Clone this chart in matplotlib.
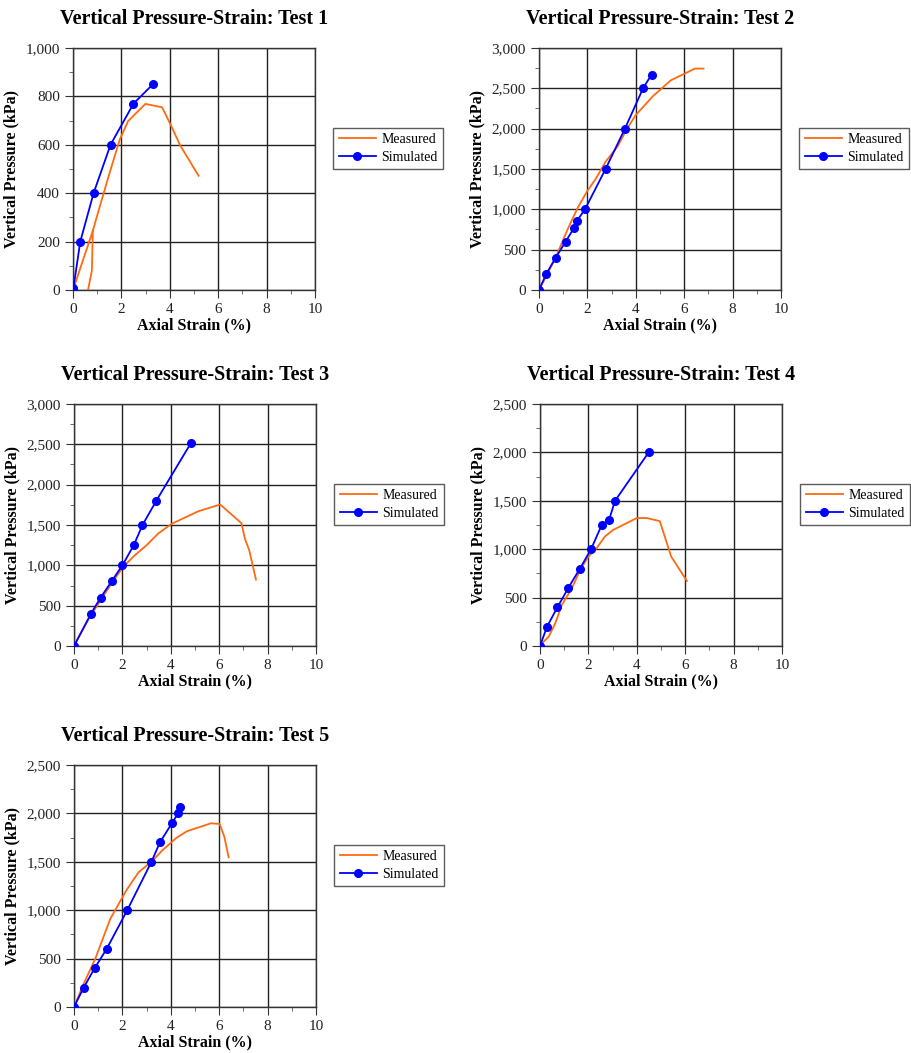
import numpy as np
import matplotlib
matplotlib.use("Agg")
import matplotlib.pyplot as plt
from matplotlib.ticker import MultipleLocator, FuncFormatter

plt.rcParams['font.family'] = ['Liberation Serif', 'DejaVu Serif']

# ---- Test 1 ----
t1_meas_x = [0.0, 0.82, 0.78, 0.62, np.nan, 0.82, 1.07, 1.5, 1.93, 2.27, 2.99, 3.68, 4.0, 4.45, 5.19]
t1_meas_y = [0, 245, 80, 0, np.nan, 245, 332, 480, 621, 697, 769, 755, 690, 594, 472]
t1_sim_x = [0.0, 0.02, 0.3, 0.85, 1.55, 2.5, 3.3]
t1_sim_y = [0, 10, 200, 400, 600, 770, 850]

# ---- Test 2 ----
t2_meas_x = [0.0, 0.35, 0.7, 1.18, 1.6, 2.0, 2.35, 2.75, 3.25, 3.6, 4.0, 4.7, 5.45, 6.45, 6.8]
t2_meas_y = [0, 200, 410, 750, 1020, 1230, 1380, 1590, 1780, 1980, 2170, 2400, 2600, 2745, 2745]
t2_sim_x = [0.0, 0.3, 0.69, 1.1, 1.45, 1.55, 1.9, 2.75, 3.55, 4.3, 4.65]
t2_sim_y = [0, 200, 400, 600, 770, 850, 1000, 1500, 2000, 2500, 2670]

# ---- Test 3 ----
t3_meas_x = [0.0, 0.65, 1.55, 2.03, 2.47, 3.0, 3.48, 4.03, 5.14, 6.04, 6.92, 7.06, 7.24, 7.52]
t3_meas_y = [0, 360, 774, 980, 1113, 1250, 1394, 1514, 1671, 1754, 1522, 1332, 1187, 823]
t3_sim_x = [0.0, 0.7, 1.1, 1.55, 2.0, 2.47, 2.83, 3.4, 4.84]
t3_sim_y = [0, 400, 600, 800, 1000, 1250, 1500, 1800, 2520]

# ---- Test 4 ----
t4_meas_x = [0.05, 0.36, 0.63, 0.9, 1.32, 1.66, 2.0, 2.34, 2.68, 3.03, 3.85, 4.0, 4.41, 4.95, 5.42, 6.07]
t4_meas_y = [20, 97, 234, 424, 597, 786, 924, 1010, 1131, 1200, 1303, 1322, 1322, 1290, 924, 672]
t4_sim_x = [0.0, 0.29, 0.72, 1.17, 1.65, 2.11, 2.55, 2.85, 3.1, 4.49]
t4_sim_y = [0, 200, 400, 600, 800, 1000, 1250, 1300, 1500, 2000]

# ---- Test 5 ----
t5_meas_x = [0.0, 0.4, 0.88, 1.5, 2.16, 2.67, 3.2, 3.64, 4.23, 4.67, 5.66, 6.02, 6.21, 6.39]
t5_meas_y = [0, 240, 499, 911, 1204, 1393, 1500, 1616, 1747, 1816, 1898, 1891, 1761, 1547]
t5_sim_x = [0.0, 0.4, 0.85, 1.35, 2.2, 3.2, 3.55, 4.05, 4.3, 4.4]
t5_sim_y = [0, 200, 400, 600, 1000, 1500, 1700, 1900, 2000, 2070]

tests = [
    ("Test 1", t1_meas_x, t1_meas_y, t1_sim_x, t1_sim_y, 1000, 200),
    ("Test 2", t2_meas_x, t2_meas_y, t2_sim_x, t2_sim_y, 3000, 500),
    ("Test 3", t3_meas_x, t3_meas_y, t3_sim_x, t3_sim_y, 3000, 500),
    ("Test 4", t4_meas_x, t4_meas_y, t4_sim_x, t4_sim_y, 2500, 500),
    ("Test 5", t5_meas_x, t5_meas_y, t5_sim_x, t5_sim_y, 2500, 500),
]

W, H = 912, 1053
# axes boxes in pixels: left, top
boxes = [(73, 48), (539, 48), (74, 404), (540, 404), (74, 765)]
aw, ah = 242, 242

fig = plt.figure(figsize=(W / 100, H / 100), dpi=100)
thousands = FuncFormatter(lambda v, p: f"{int(v):,}")

for (name, mx, my, sx, sy, ymax, ystep), (l, t) in zip(tests, boxes):
    ax = fig.add_axes([l / W, (H - t - ah) / H, aw / W, ah / H])
    ax.plot(mx, my, color='#FF6A0F', lw=1.3, label='Measured', zorder=3)
    ax.plot(sx, sy, color='#0000FF', lw=1.3, marker='o', ms=5.5, label='Simulated', zorder=4)
    ax.set_xlim(0, 10)
    ax.set_ylim(0, ymax)
    ax.xaxis.set_major_locator(MultipleLocator(2))
    ax.xaxis.set_minor_locator(MultipleLocator(1))
    ax.yaxis.set_major_locator(MultipleLocator(ystep))
    ax.yaxis.set_minor_locator(MultipleLocator(ystep / 2))
    ax.yaxis.set_major_formatter(thousands)
    ax.grid(True, which='major', color='#222222', lw=1.0)
    ax.set_axisbelow(True)
    for s in ax.spines.values():
        s.set_color('#333333')
        s.set_linewidth(1.0)
    ax.tick_params(which='major', direction='out', length=6, width=0.8,
                   color='#333333', labelsize=11, labelcolor='#222222')
    ax.tick_params(which='minor', direction='out', length=3, width=0.6, color='#555555')
    ax.set_title(f"Vertical Pressure-Strain: {name}", fontsize=14.5,
                 fontweight='bold', pad=17)
    ax.set_xlabel("Axial Strain (%)", fontsize=11.5, fontweight='bold', labelpad=1)
    ax.set_ylabel("Vertical Pressure (kPa)", fontsize=11.5, fontweight='bold', labelpad=4)
    leg = ax.legend(loc='center left', bbox_to_anchor=(1.075, 0.585), borderaxespad=0,
                    fontsize=10, frameon=True, fancybox=False, edgecolor='#333333',
                    handlelength=2.7, handletextpad=0.35, borderpad=0.4, labelspacing=0.3)
    leg.get_frame().set_linewidth(1.0)

fig.savefig("out.png", dpi=100)
